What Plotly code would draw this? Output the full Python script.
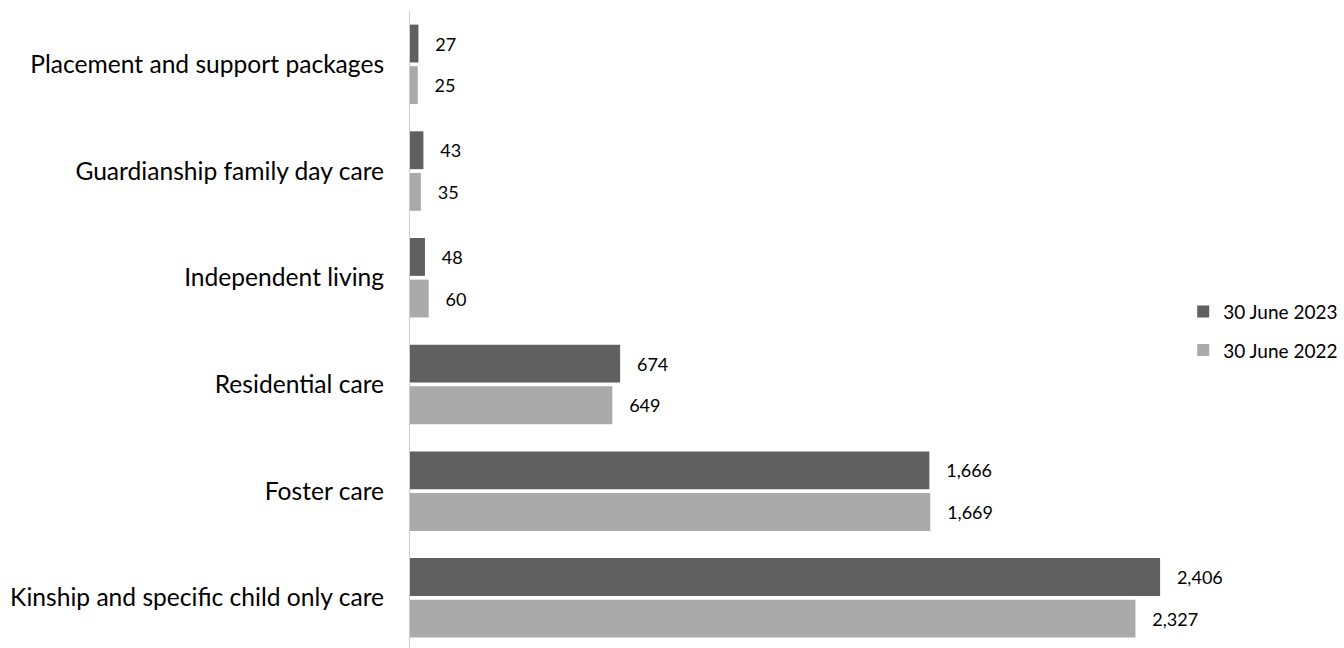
import plotly.graph_objects as go

categories = [
    "Placement and support packages",
    "Guardianship family day care",
    "Independent living",
    "Residential care",
    "Foster care",
    "Kinship and specific child only care",
]
values_2023 = [27, 43, 48, 674, 1666, 2406]
values_2022 = [25, 35, 60, 649, 1669, 2327]
series_names = ["30 June 2023", "30 June 2022"]

FONT = "Lato"
PAD = "\u00a0" * 3

fig = go.Figure()
fig.add_trace(go.Bar(
    y=categories, x=values_2023, orientation="h", name=series_names[0],
    marker=dict(color="#606060", line=dict(width=0)),
    texttemplate=PAD + "%{x:,}", textposition="outside",
    textfont=dict(family=FONT, size=18, color="#000000"),
    legendgroup="a", cliponaxis=False,
))
fig.add_trace(go.Bar(
    y=categories, x=values_2022, orientation="h", name=series_names[1],
    marker=dict(color="#aaaaaa", line=dict(width=0)),
    texttemplate=PAD + "%{x:,}", textposition="outside",
    textfont=dict(family=FONT, size=18, color="#000000"),
    legendgroup="b", cliponaxis=False,
))

fig.update_layout(
    width=1344, height=648,
    margin=dict(l=410, r=149, t=11, b=0, pad=0),
    paper_bgcolor="white", plot_bgcolor="white",
    barmode="group", bargap=0.22, bargroupgap=0.09,
    font=dict(family=FONT, color="#000000"),
    showlegend=True,
    legend=dict(
        x=0.985, xanchor="left", y=0.4976, yanchor="middle",
        font=dict(family=FONT, size=19, color="#000000"),
        traceorder="grouped", tracegroupgap=11,
        bgcolor="rgba(0,0,0,0)",
    ),
    xaxis=dict(range=[0, 2518], showgrid=False, zeroline=False,
               showticklabels=False, showline=False, ticks=""),
    yaxis=dict(range=[5.47, -0.5], showgrid=False, zeroline=False,
               showline=True, linecolor="#cccccc", linewidth=1,
               ticks="outside", ticklen=20, tickcolor="rgba(0,0,0,0)",
               tickfont=dict(family=FONT, size=24.6, color="#000000")),
)

fig.write_html("out.html")
